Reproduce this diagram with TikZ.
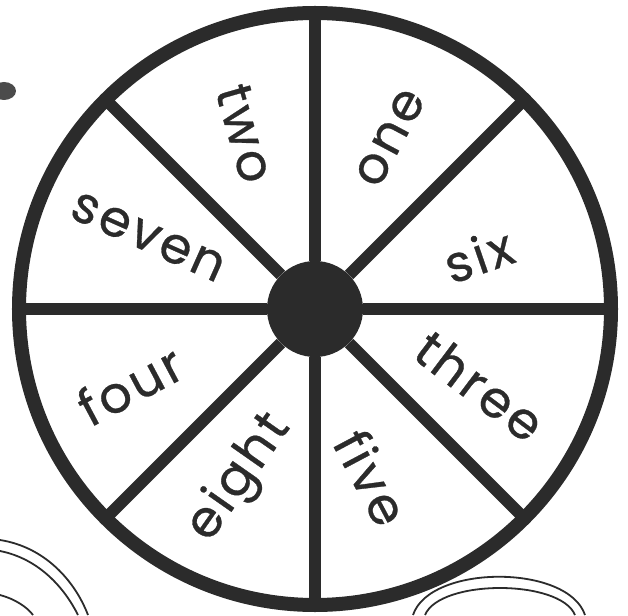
\documentclass[tikz,border=0pt]{standalone}
\usepackage{fontspec}
\setmainfont{Poppins}
\usetikzlibrary{positioning}
\definecolor{ink}{HTML}{2B2B2B}
\tikzset{
  wheel/ring/.style={draw=ink, line width=14pt},
  wheel/spoke/.style={draw=ink, line width=12pt},
  wheel/hub/.style={circle, fill=ink, minimum size=96pt, inner sep=0pt},
  wheel/word/.style={text=ink, inner sep=0pt,
    font=\fontsize{51}{51}\selectfont\addfontfeature{LetterSpace=6,FakeBold=0.6}},
  scrap/.style={draw=ink, line width=1.8pt}
}

\begin{document}
\begin{tikzpicture}[x=1pt, y=1pt]
\useasboundingbox (-315,-306) rectangle (313,309);

% --- rim and spokes ---
\draw[wheel/ring] (0,0) circle (296pt);
\node[wheel/hub] (hub) at (0,0) {};
\foreach \a in {0,45,...,315}
  \coordinate (rim-\a) at (\a:294pt);
\foreach \a in {0,45,...,315}
  \draw[wheel/spoke] (hub) -- (rim-\a);

% --- number words ---
\node[wheel/word, rotate=-74] (w-two)   at (111.7:189) {two};
\node[wheel/word, rotate=62]  (w-one)   at (66.3:187)  {one};
\node[wheel/word, rotate=19]  (w-six)   at (18.3:172)  {six};
\node[wheel/word, rotate=-24] (w-seven) at (156.7:182) {seven};
\node[wheel/word, rotate=28]  (w-four)  at (202.3:200) {four};
\node[wheel/word, rotate=55]  (w-eight) at (246:185)   {eight};
\node[wheel/word, rotate=-37] (w-three) at (335:182)   {three};
\node[wheel/word, rotate=-62] (w-five)  at (288.6:178) {five};

% --- bits of the next pictures ---
\fill[ink!85] (-311,218) ellipse (12pt and 9pt);
\draw[scrap] (-315,-231) .. controls (-270,-238) and (-240,-272) .. (-227,-306);
\draw[scrap] (-315,-242) .. controls (-275,-250) and (-250,-280) .. (-237,-306);
\draw[scrap] (-315,-286) .. controls (-300,-290) and (-288,-298) .. (-282,-306);
\draw[scrap] (98,-306) .. controls (115,-255) and (253,-255) .. (270,-306);
\draw[scrap] (110,-306) .. controls (125,-270) and (245,-270) .. (260,-306);
\end{tikzpicture}
\end{document}
